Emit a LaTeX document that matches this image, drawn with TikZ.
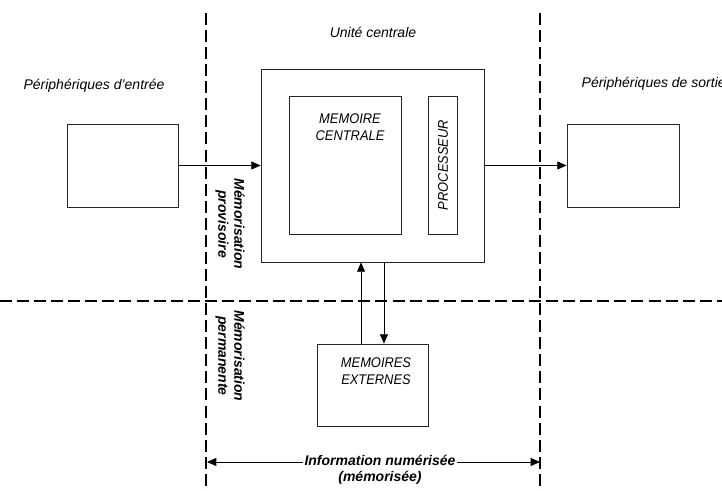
\documentclass[tikz,border=0pt]{standalone}
\usepackage{fontspec}
\setmainfont{Liberation Sans}
\usetikzlibrary{arrows.meta}

\begin{document}
\begin{tikzpicture}[x=0.75pt, y=-0.75pt,
    boite/.style={draw=black!85, line width=0.6pt, inner sep=0pt},
    fleche/.style={line width=0.6pt, -{Triangle[length=7pt, width=6pt]}},
    limite/.style={line width=2.2pt, dash pattern=on 9pt off 3.8pt},
    titre/.style={font=\fontsize{10.5}{12.5}\selectfont\itshape},
    zone/.style={font=\fontsize{10.5}{12}\selectfont\bfseries\itshape, align=center, rotate=-90}]
    \useasboundingbox (0, 0) rectangle (722, 491);
    % limites des zones
    \draw[limite] (206, 13) -- (206, 491);
    \draw[limite] (540, 13) -- (540, 491);
    \draw[limite] (0, 301) -- (722, 301);
    % boites
    \node[boite, minimum width=83.25pt, minimum height=62.25pt] (entree) at (122.5, 165.5) {};
    \node[boite, minimum width=84pt, minimum height=62.25pt] (sortie) at (623, 165.5) {};
    \node[boite, minimum width=167.25pt, minimum height=144.75pt] (uc) at (372.5, 165.5) {};
    \node[boite, minimum width=84pt, minimum height=103.5pt] (memc) at (345, 165) {};
    \node[boite, minimum width=21.75pt, minimum height=103.5pt] (proc) at (442.5, 165) {};
    \node[boite, minimum width=83.25pt, minimum height=61.5pt] (memext) at (372.5, 385) {};
    % textes
    \node[titre] (tentree) at (94, 86) {Périphériques d'entrée};
    \node[titre, anchor=west] (tsortie) at (577, 84) {Périphériques de sortie};
    \node[titre] (tuc) at (373, 32) {Unité centrale};
    \node[titre, align=center, anchor=north] (tmemc) at (350, 109) {\addfontfeature{FakeStretch=0.92}MEMOIRE\\\addfontfeature{FakeStretch=0.92}CENTRALE};
    \node[titre, rotate=90] (tproc) at (443, 165) {\addfontfeature{FakeStretch=0.92}PROCESSEUR};
    \node[titre, align=center, anchor=north] (tmemext) at (376, 353) {\addfontfeature{FakeStretch=0.92}MEMOIRES\\\addfontfeature{FakeStretch=0.92}EXTERNES};
    \node[zone] (tprov) at (230, 224) {Mémorisation\\provisoire};
    \node[zone] (tperm) at (230, 356) {Mémorisation\\permanente};
    % liaisons
    \draw[fleche] (entree) -- (uc);
    \draw[fleche] (uc) -- (sortie);
    \draw[fleche] ([xshift=-8.6pt]memext.north) -- ([xshift=-8.6pt]memext.north |- uc.south);
    \draw[fleche] ([xshift=8.6pt]memext.north |- uc.south) -- ([xshift=8.6pt]memext.north);
    \coordinate (g) at (207, 462);
    \coordinate (d) at (540, 462);
    \draw[fleche, {Triangle[length=7pt, width=6pt]}-{Triangle[length=7pt, width=6pt]}] (g) -- (d);
    \node[zone, rotate=90, fill=white, inner sep=1pt, align=center] (tinfo) at (380, 470) {Information numérisée\\(mémorisée)};
\end{tikzpicture}
\end{document}
